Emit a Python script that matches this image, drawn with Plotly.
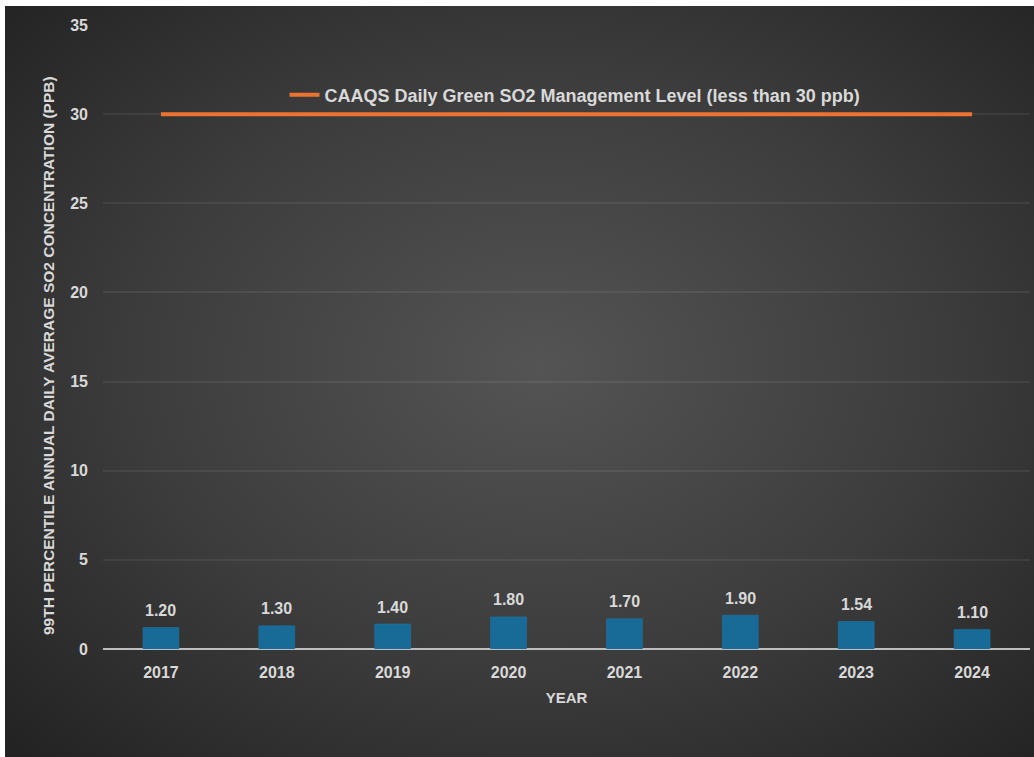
import base64
import plotly.graph_objects as go

# Annual 99th percentile of daily average SO2 (ppb)
years = ["2017", "2018", "2019", "2020", "2021", "2022", "2023", "2024"]
so2_values = [1.20, 1.30, 1.40, 1.80, 1.70, 1.90, 1.54, 1.10]
so2_labels = ["1.20", "1.30", "1.40", "1.80", "1.70", "1.90", "1.54", "1.10"]

# CAAQS green management level
caaqs_level = [30, 30, 30, 30, 30, 30, 30, 30]
caaqs_name = "CAAQS Daily Green SO2 Management Level (less than 30 ppb)"

y_ticks = [0, 5, 10, 15, 20, 25, 30, 35]

W, H = 1034, 757
ML, MR, MT, MB = 103, 4, 25, 108
PW, PH = W - ML - MR, H - MT - MB

TEXT = "#d9d9d9"
FONT = "Liberation Sans, Arial, sans-serif"

# radial gradient backdrop as an inline SVG
svg = (
    '<svg xmlns="http://www.w3.org/2000/svg" width="1029" height="751" '
    'viewBox="0 0 1029 751" preserveAspectRatio="none">'
    '<defs><radialGradient id="g" cx="0.52" cy="0.48" r="0.72">'
    '<stop offset="0" stop-color="#545454"/>'
    '<stop offset="0.55" stop-color="#3c3c3c"/>'
    '<stop offset="1" stop-color="#232323"/>'
    '</radialGradient></defs>'
    '<rect width="1029" height="751" fill="url(#g)"/></svg>'
)
bg_uri = "data:image/svg+xml;base64," + base64.b64encode(svg.encode()).decode()

fig = go.Figure()

fig.add_trace(go.Bar(
    x=years,
    y=so2_values,
    width=0.31,
    marker=dict(color="#186a97", line=dict(color="#1d7bb0", width=0.5)),
    showlegend=False,
    hoverinfo="x+y",
))

fig.add_trace(go.Scatter(
    x=years,
    y=caaqs_level,
    mode="lines",
    name=caaqs_name,
    line=dict(color="#ec7430", width=4),
))

# value labels above each bar (category index positions)
annotations = [
    dict(x=i, y=v, text=lbl, xref="x", yref="y",
         showarrow=False, yanchor="middle", yshift=17,
         font=dict(family=FONT, size=16, color=TEXT, weight="bold"))
    for i, (v, lbl) in enumerate(zip(so2_values, so2_labels))
]

# y axis title
annotations.append(dict(
    text="99TH PERCENTILE ANNUAL DAILY AVERAGE SO2 CONCENTRATION (PPB)",
    textangle=-90, showarrow=False,
    xref="paper", yref="paper",
    x=(48 - ML) / PW, y=(H - MB - 356) / PH,
    xanchor="center", yanchor="middle",
    font=dict(family=FONT, size=15.5, color=TEXT, weight="bold"),
))

fig.update_layout(
    width=W,
    height=H,
    margin=dict(l=ML, r=MR, t=MT, b=MB),
    paper_bgcolor="white",
    plot_bgcolor="rgba(0,0,0,0)",
    font=dict(family=FONT, color=TEXT, size=16),
    images=[dict(
        source=bg_uri,
        xref="paper", yref="paper",
        x=(5 - ML) / PW, y=(H - MB - 6) / PH,
        sizex=(W - 5) / PW, sizey=(H - 6) / PH,
        xanchor="left", yanchor="top",
        sizing="stretch", layer="below",
    )],
    annotations=annotations,
    legend=dict(
        orientation="h",
        x=(575 - ML) / PW, xanchor="center",
        y=(H - MB - 95) / PH, yanchor="middle",
        bgcolor="rgba(0,0,0,0)",
        font=dict(family=FONT, size=18, color=TEXT, weight="bold"),
        itemwidth=30,
    ),
    xaxis=dict(
        type="category",
        categoryorder="array",
        categoryarray=years,
        range=[-0.5, len(years) - 0.5],
        showgrid=False,
        showline=False,
        ticks="",
        ticklabelstandoff=12,
        tickfont=dict(family=FONT, size=16, color=TEXT, weight="bold"),
        title=dict(text="YEAR", standoff=12,
                   font=dict(family=FONT, size=15, color=TEXT, weight="bold")),
    ),
    yaxis=dict(
        range=[0, 35],
        tickvals=y_ticks,
        showgrid=True,
        gridcolor="rgba(255,255,255,0.065)",
        gridwidth=1.5,
        zeroline=True,
        zerolinecolor="#bdbdbd",
        zerolinewidth=2,
        ticks="",
        ticklabelstandoff=14,
        tickfont=dict(family=FONT, size=16, color=TEXT, weight="bold"),
    ),
)

fig.write_html("out.html")
